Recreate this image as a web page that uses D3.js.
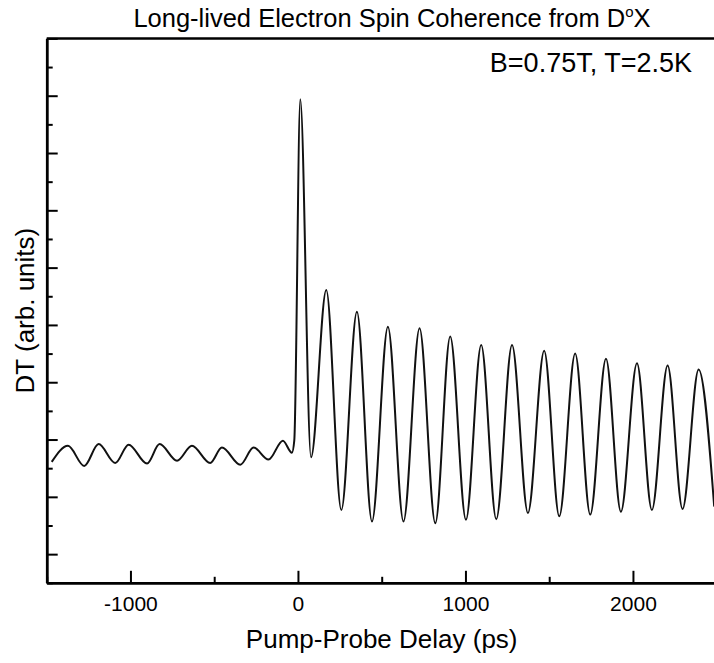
<!DOCTYPE html>
<html><head><meta charset="utf-8">
<script src="https://cdn.jsdelivr.net/npm/d3@7"></script>
<style>
html,body{margin:0;padding:0;background:#fff;}
svg{display:block;font-family:"Liberation Sans",Arial,Helvetica,sans-serif;}
</style></head>
<body><svg id="chart" width="714" height="663"></svg>
<script>
// Pump-probe delay (ps) and differential transmission (arb. units)
const delay = [-1470,-1373,-1276,-1190,-1091,-1011,-901,-826,-722,-633,-524,-454,-344,-265,-176,-90,-36,-22,14,78,169,259,352,442,537,630,726,820,909,1003,1094,1184,1278,1373,1470,1560,1655,1745,1839,1928,2024,2113,2207,2296,2392,2485];
const dt = [1.61,1.89,1.54,1.92,1.59,1.91,1.58,1.92,1.63,1.89,1.59,1.86,1.56,1.86,1.65,1.98,1.77,1.98,7.94,1.69,4.61,0.77,4.23,0.57,3.97,0.57,3.94,0.54,3.80,0.60,3.65,0.61,3.65,0.72,3.55,0.66,3.50,0.69,3.41,0.74,3.33,0.77,3.29,0.79,3.22,0.83];
const xMajorTicks = [-1000,0,1000,2000];
const xMinorTicks = [-1500,-500,500,1500,2500];
const yMajorTicks = [0,1,2,3,4,5,6,7,8,9];
const yMinorTicks = [-0.5,0.5,1.5,2.5,3.5,4.5,5.5,6.5,7.5,8.5];
const titleText = "Long-lived Electron Spin Coherence from D";
const annotation = "B=0.75T, T=2.5K";
const xTitle = "Pump-Probe Delay (ps)";
const yTitle = "DT (arb. units)";

const svg = d3.select("#chart");
const m = {left:46.7, right:716.7, top:38.4, bottom:582.8};
const x = d3.scaleLinear().domain([-1500,2500]).range([m.left,m.right]);
const y = d3.scaleLinear().domain([-0.5,9]).range([m.bottom,m.top]);

// data line
const pts = delay.map((d,i)=>[d,dt[i]]);
svg.append("path").datum(pts)
  .attr("fill","none").attr("stroke","#111").attr("stroke-width",2)
  .attr("stroke-linejoin","round")
  .attr("d", d3.line().x(d=>x(d[0])).y(d=>y(d[1])).curve(d3.curveMonotoneX));

// axes
const gx = svg.append("g").attr("transform",`translate(0,${m.bottom})`);
gx.call(d3.axisBottom(x).tickValues(xMajorTicks).tickSizeInner(-12).tickSizeOuter(0).tickPadding(13).tickFormat(d=>String(d)));
const gx2 = svg.append("g").attr("transform",`translate(0,${m.bottom})`);
gx2.call(d3.axisBottom(x).tickValues(xMinorTicks).tickSizeInner(-6).tickSizeOuter(0).tickFormat(""));
const gy = svg.append("g").attr("transform",`translate(${m.left},0)`);
gy.call(d3.axisLeft(y).tickValues(yMajorTicks).tickSizeInner(-11).tickSizeOuter(0).tickFormat(""));
const gy2 = svg.append("g").attr("transform",`translate(${m.left},0)`);
gy2.call(d3.axisLeft(y).tickValues(yMinorTicks).tickSizeInner(-6).tickSizeOuter(0).tickFormat(""));
svg.selectAll(".domain").attr("stroke","#000").attr("stroke-width",2.5);
svg.selectAll(".tick line").attr("stroke","#000").attr("stroke-width",2);
gx.selectAll(".tick text").attr("font-size",21).attr("fill","#000")
  .attr("font-family","'Liberation Sans',Arial,sans-serif");
// top border
svg.append("line").attr("x1",m.left).attr("x2",m.right).attr("y1",m.top).attr("y2",m.top)
  .attr("stroke","#000").attr("stroke-width",2.5);

// title
const t = svg.append("text").attr("x",392).attr("y",27).attr("text-anchor","middle")
  .attr("font-size",25.5).attr("fill","#000");
t.append("tspan").text(titleText);
t.append("tspan").attr("font-size",15).attr("dy",-10).text("o");
t.append("tspan").attr("dy",10).text("X");

svg.append("text").attr("x",692).attr("y",72).attr("text-anchor","end")
  .attr("font-size",27).attr("fill","#000").text(annotation);

svg.append("text").attr("x",(m.left+m.right)/2).attr("y",648).attr("text-anchor","middle")
  .attr("font-size",26).attr("fill","#000").text(xTitle);
svg.append("text").attr("transform",`translate(34,${(m.top+m.bottom)/2}) rotate(-90)`)
  .attr("text-anchor","middle").attr("font-size",26).attr("fill","#000").text(yTitle);
</script></body></html>
